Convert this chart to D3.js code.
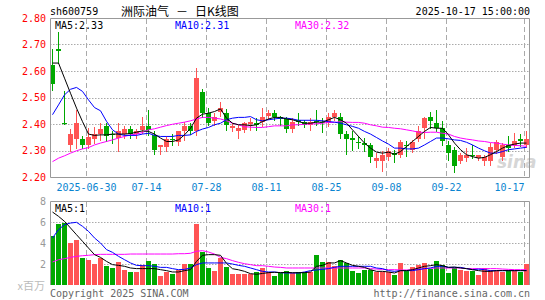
<!DOCTYPE html>
<html><head><meta charset="utf-8">
<script src="https://cdn.jsdelivr.net/npm/d3@7/dist/d3.min.js"></script>
<style>body{margin:0;background:#fff}svg{display:block}</style>
</head><body><svg id="c" width="545" height="300"></svg>
<script>
const dates = ["2025-06-20","2025-06-23","2025-06-24","2025-06-25","2025-06-26","2025-06-27","2025-06-30","2025-07-01","2025-07-02","2025-07-03",
"2025-07-04","2025-07-07","2025-07-08","2025-07-09","2025-07-10","2025-07-11","2025-07-14","2025-07-15","2025-07-16","2025-07-17",
"2025-07-18","2025-07-21","2025-07-22","2025-07-23","2025-07-24","2025-07-25","2025-07-28","2025-07-29","2025-07-30","2025-07-31",
"2025-08-01","2025-08-04","2025-08-05","2025-08-06","2025-08-07","2025-08-08","2025-08-11","2025-08-12","2025-08-13","2025-08-14",
"2025-08-15","2025-08-18","2025-08-19","2025-08-20","2025-08-21","2025-08-22","2025-08-25","2025-08-26","2025-08-27","2025-08-28",
"2025-08-29","2025-09-01","2025-09-02","2025-09-03","2025-09-04","2025-09-05","2025-09-08","2025-09-09","2025-09-10","2025-09-11",
"2025-09-12","2025-09-15","2025-09-16","2025-09-17","2025-09-18","2025-09-19","2025-09-22","2025-09-23","2025-09-24","2025-09-25",
"2025-09-26","2025-09-29","2025-09-30","2025-10-09","2025-10-10","2025-10-13","2025-10-14","2025-10-15","2025-10-16","2025-10-17"];

const open = [2.623,2.684,2.402,2.321,2.344,2.343,2.321,2.344,2.362,2.393,
2.362,2.347,2.362,2.382,2.362,2.378,2.393,2.359,2.312,2.313,
2.342,2.331,2.372,2.393,2.372,2.520,2.441,2.412,2.445,2.441,
2.384,2.372,2.378,2.399,2.403,2.409,2.432,2.441,2.425,2.420,
2.382,2.416,2.409,2.397,2.410,2.409,2.403,2.428,2.428,2.362,
2.346,2.331,2.330,2.321,2.261,2.261,2.274,2.290,2.284,2.322,
2.302,2.343,2.384,2.425,2.403,2.385,2.322,2.303,2.262,2.272,
2.284,2.270,2.262,2.262,2.303,2.274,2.322,2.322,2.344,2.319];
const close = [2.552,2.674,2.400,2.362,2.403,2.321,2.350,2.362,2.380,2.355,
2.357,2.372,2.382,2.362,2.372,2.393,2.378,2.302,2.319,2.343,
2.340,2.372,2.393,2.372,2.573,2.441,2.403,2.425,2.460,2.397,
2.393,2.384,2.403,2.409,2.397,2.428,2.441,2.428,2.420,2.382,
2.409,2.409,2.397,2.409,2.406,2.405,2.428,2.441,2.362,2.343,
2.340,2.327,2.321,2.274,2.271,2.284,2.299,2.284,2.331,2.318,
2.331,2.372,2.422,2.412,2.384,2.335,2.290,2.240,2.284,2.284,
2.278,2.284,2.274,2.315,2.331,2.322,2.309,2.335,2.335,2.344];
const high = [2.684,2.749,2.525,2.382,2.451,2.353,2.384,2.387,2.403,2.403,
2.372,2.403,2.391,2.391,2.382,2.428,2.453,2.372,2.319,2.353,
2.362,2.372,2.409,2.403,2.611,2.533,2.460,2.441,2.482,2.456,
2.403,2.397,2.409,2.424,2.422,2.460,2.453,2.451,2.432,2.428,
2.424,2.441,2.416,2.424,2.453,2.422,2.441,2.453,2.441,2.372,
2.372,2.353,2.349,2.328,2.290,2.299,2.309,2.302,2.340,2.334,
2.340,2.391,2.425,2.447,2.454,2.410,2.337,2.312,2.290,2.309,
2.322,2.284,2.284,2.328,2.341,2.328,2.353,2.366,2.363,2.372];
const low = [2.529,2.630,2.400,2.299,2.311,2.311,2.309,2.328,2.340,2.336,
2.328,2.299,2.347,2.347,2.347,2.365,2.359,2.286,2.286,2.299,
2.319,2.321,2.340,2.362,2.359,2.428,2.397,2.397,2.432,2.378,
2.372,2.347,2.369,2.378,2.378,2.391,2.419,2.416,2.397,2.369,
2.369,2.397,2.387,2.378,2.397,2.369,2.391,2.416,2.349,2.286,
2.302,2.309,2.299,2.256,2.236,2.221,2.265,2.258,2.277,2.281,
2.296,2.334,2.347,2.384,2.372,2.322,2.265,2.219,2.252,2.259,
2.271,2.266,2.247,2.247,2.290,2.265,2.297,2.312,2.316,2.312];

const ma5 = [2.630,2.630,2.573,2.516,2.460,2.409,2.362,2.357,2.359,2.359,
2.362,2.362,2.362,2.364,2.369,2.374,2.372,2.362,2.347,2.334,
2.334,2.340,2.359,2.384,2.422,2.437,2.441,2.447,2.457,2.422,
2.403,2.397,2.397,2.394,2.397,2.409,2.419,2.425,2.425,2.419,
2.416,2.409,2.403,2.403,2.407,2.407,2.416,2.425,2.416,2.403,
2.378,2.353,2.328,2.309,2.294,2.290,2.294,2.286,2.296,2.315,
2.334,2.353,2.372,2.387,2.384,2.384,2.359,2.328,2.303,2.284,
2.277,2.271,2.274,2.284,2.296,2.309,2.319,2.324,2.328,2.328];
const ma10 = [2.435,2.472,2.510,2.531,2.538,2.523,2.491,2.462,2.450,2.410,
2.378,2.362,2.357,2.357,2.357,2.362,2.365,2.357,2.353,2.353,
2.353,2.357,2.357,2.359,2.372,2.381,2.387,2.397,2.403,2.416,
2.422,2.425,2.425,2.428,2.416,2.412,2.416,2.419,2.422,2.422,
2.419,2.414,2.414,2.414,2.414,2.412,2.409,2.407,2.403,2.397,
2.391,2.384,2.372,2.362,2.349,2.336,2.324,2.309,2.309,2.306,
2.306,2.309,2.321,2.334,2.347,2.347,2.344,2.340,2.338,2.331,
2.321,2.309,2.299,2.290,2.290,2.296,2.303,2.306,2.309,2.312];
const ma30 = [2.258,2.271,2.280,2.290,2.299,2.306,2.311,2.321,2.328,2.334,
2.340,2.347,2.353,2.359,2.362,2.368,2.378,2.382,2.388,2.394,
2.399,2.403,2.407,2.412,2.419,2.425,2.425,2.422,2.419,2.412,
2.403,2.397,2.390,2.388,2.387,2.387,2.390,2.393,2.393,2.393,
2.397,2.397,2.399,2.400,2.401,2.403,2.406,2.406,2.409,2.407,
2.406,2.406,2.403,2.397,2.393,2.388,2.387,2.384,2.382,2.378,
2.374,2.369,2.368,2.369,2.369,2.365,2.362,2.353,2.347,2.343,
2.340,2.336,2.334,2.330,2.328,2.324,2.321,2.319,2.318,2.316];

const volume = [4.70,5.78,5.94,3.97,4.25,2.54,2.35,2.00,2.54,1.78,
1.59,2.16,1.46,1.27,1.27,1.90,2.25,1.97,0.83,1.27,
1.02,1.43,1.97,1.97,5.78,3.17,1.59,1.30,2.54,1.68,
1.02,1.02,1.02,1.02,1.21,1.59,1.24,0.90,1.11,1.37,
1.11,1.24,1.24,1.24,2.89,2.22,2.22,1.78,2.41,2.06,
1.30,1.17,1.40,1.40,1.24,1.24,1.24,0.98,2.13,1.30,
1.75,1.94,2.13,1.56,2.32,1.87,1.17,1.62,1.46,1.30,
1.30,0.98,1.62,1.46,1.37,1.24,1.46,1.30,1.21,2.03];
const vma5 = [6.95,6.54,6.06,5.43,4.79,4.16,3.52,2.89,2.63,2.25,
1.94,1.87,1.78,1.62,1.56,1.56,1.56,1.56,1.46,1.37,
1.24,1.24,1.37,1.46,2.25,2.83,2.89,2.89,2.83,2.06,
1.55,1.45,1.30,1.08,1.02,1.10,1.18,1.21,1.18,1.20,
1.17,1.17,1.17,1.24,1.78,1.87,2.10,2.10,2.32,2.10,
1.87,1.78,1.68,1.46,1.30,1.30,1.24,1.14,1.37,1.37,
1.46,1.62,1.78,1.84,1.94,1.84,1.68,1.71,1.62,1.56,
1.46,1.37,1.30,1.30,1.37,1.37,1.37,1.37,1.37,1.37];
const vma10 = [4.48,5.27,5.75,5.90,5.97,5.59,5.11,4.48,4.00,3.37,
3.11,2.73,2.41,2.10,1.87,1.84,1.84,1.78,1.68,1.68,
1.56,1.46,1.49,1.62,1.94,2.10,2.10,2.10,2.10,2.10,
2.00,1.87,1.78,1.62,1.46,1.30,1.24,1.24,1.17,1.14,
1.14,1.14,1.24,1.37,1.43,1.49,1.56,1.68,1.78,1.78,
1.78,1.78,1.78,1.78,1.62,1.56,1.37,1.30,1.37,1.37,
1.37,1.46,1.56,1.62,1.78,1.78,1.68,1.68,1.68,1.56,
1.46,1.51,1.46,1.37,1.37,1.37,1.37,1.37,1.37,1.37];
const vma30 = [2.19,2.41,2.51,2.63,2.73,2.79,2.83,2.89,2.92,2.92,
2.92,2.92,2.92,2.95,2.95,2.95,2.95,2.95,2.95,2.95,
2.95,2.98,2.98,3.02,3.21,3.27,3.14,2.95,2.63,2.51,
2.32,2.16,2.03,1.94,1.84,1.84,1.78,1.71,1.68,1.62,
1.62,1.62,1.62,1.62,1.62,1.62,1.62,1.62,1.62,1.62,
1.62,1.62,1.62,1.56,1.52,1.49,1.46,1.46,1.43,1.43,
1.46,1.49,1.56,1.59,1.62,1.62,1.62,1.62,1.62,1.56,
1.56,1.56,1.56,1.56,1.56,1.52,1.49,1.46,1.46,1.46];

const tickDates = ["2025-06-30","2025-07-14","2025-07-28","2025-08-11","2025-08-25","2025-09-08","2025-09-22","2025-10-17"];
const tickLabels = ["2025-06-30","07-14","07-28","08-11","08-25","09-08","09-22","10-17"];
const priceTicks = [2.20,2.30,2.40,2.50,2.60,2.70,2.80];
const priceGrid = [2.30,2.40,2.50,2.60,2.70];
const volTicks = [2,4,6,8];
const volGrid = [2,4,6];

const RED = "#ff5454", GREEN = "#00a800";
const MONO = "'DejaVu Sans Mono', 'Liberation Mono', monospace";
const CJK = "'Noto Sans CJK SC', sans-serif";

const svg = d3.select("#c");
const L = 50, R = 530;
const x = d3.scaleBand().domain(dates).range([49.5, 529.5]);
const y = d3.scaleLinear().domain([2.20, 2.80]).range([177, 18]);
const yv = d3.scaleLinear().domain([0, 8]).range([285, 201]);
const cx = d => x(d) + 3;

const data = dates.map((d, i) => ({d, o: open[i], c: close[i], h: high[i], l: low[i], v: volume[i], up: close[i] > open[i]}));

// ---------- header ----------
svg.append("text").attr("x", 50).attr("y", 15).attr("font-family", MONO).attr("font-size", 10).attr("fill", "#000").text("sh600759");
svg.append("text").attr("x", 121).attr("y", 15.5).attr("font-family", CJK).attr("font-size", 12).attr("fill", "#000").text("洲际油气");
svg.append("text").attr("x", 176).attr("y", 15.5).attr("font-family", CJK).attr("font-size", 12).attr("fill", "#000").text("－");
svg.append("text").attr("x", 195).attr("y", 15.5).attr("font-family", CJK).attr("font-size", 12).attr("fill", "#000").text("日K线图");
svg.append("text").attr("x", 530).attr("y", 15).attr("text-anchor", "end").attr("font-family", MONO).attr("font-size", 10).attr("fill", "#000").text("2025-10-17 15:00:00");

// ---------- grids ----------
const grid = svg.append("g");
grid.selectAll(".hg").data(priceGrid).join("line")
  .attr("x1", L).attr("x2", R).attr("y1", d => Math.round(y(d)) + 0.5).attr("y2", d => Math.round(y(d)) + 0.5)
  .attr("stroke", "#aaa").attr("stroke-dasharray", "1.5,1.5");
grid.selectAll(".hv").data(volGrid).join("line")
  .attr("x1", L).attr("x2", R).attr("y1", d => Math.round(yv(d)) + 0.5).attr("y2", d => Math.round(yv(d)) + 0.5)
  .attr("stroke", "#aaa").attr("stroke-dasharray", "1.5,1.5");
grid.selectAll(".vg").data(tickDates).join("line")
  .attr("x1", d => x(d) + 1).attr("x2", d => x(d) + 1).attr("y1", 19).attr("y2", 177)
  .attr("stroke", "#aaa").attr("stroke-dasharray", "5,3");
grid.selectAll(".vg2").data(tickDates).join("line")
  .attr("x1", d => x(d) + 1).attr("x2", d => x(d) + 1).attr("y1", 202).attr("y2", 285)
  .attr("stroke", "#aaa").attr("stroke-dasharray", "5,3");

// watermark
svg.append("text").attr("x", 497).attr("y", 168).attr("font-family", "'DejaVu Sans', sans-serif").attr("font-style", "italic").attr("font-weight", "bold").attr("font-size", 17).attr("fill", "#d6d6d6").text("sina");

// ---------- candles ----------
const cg = svg.append("g");
cg.selectAll(".wick").data(data).join("line")
  .attr("x1", d => cx(d.d)).attr("x2", d => cx(d.d))
  .attr("y1", d => Math.round(y(d.h))).attr("y2", d => Math.round(y(d.l)) + 1)
  .attr("stroke", d => d.up ? RED : GREEN).attr("stroke-width", 1);
cg.selectAll(".body").data(data).join("rect")
  .attr("x", d => x(d.d) + 0.5).attr("width", 5)
  .attr("y", d => Math.round(y(Math.max(d.o, d.c))))
  .attr("height", d => Math.max(1, Math.round(y(Math.min(d.o, d.c))) - Math.round(y(Math.max(d.o, d.c)))))
  .attr("fill", d => d.up ? RED : GREEN);

// ---------- volume bars ----------
svg.append("g").selectAll("rect").data(data).join("rect")
  .attr("x", d => x(d.d) + 0.5).attr("width", 5)
  .attr("y", d => Math.round(yv(d.v))).attr("height", d => 285 - Math.round(yv(d.v)))
  .attr("fill", d => d.up ? RED : GREEN);

// ---------- MA lines ----------
function maLine(arr, yScale, color) {
  const ln = d3.line().x((d, i) => cx(dates[i])).y(d => yScale(d));
  svg.append("path").datum(arr).attr("d", ln).attr("fill", "none").attr("stroke", color).attr("stroke-width", 1);
}
maLine(ma30, y, "#ff00ff");
maLine(ma10, y, "#0000ff");
maLine(ma5, y, "#000000");
maLine(vma30, yv, "#ff00ff");
maLine(vma10, yv, "#0000ff");
maLine(vma5, yv, "#000000");

// ---------- frames ----------
const fr = svg.append("g").attr("fill", "none").attr("stroke", "#999");
fr.append("path").attr("d", `M${L+0.5},177.5V18.5H${R-0.5}V177.5H${L+0.5}`);
fr.append("path").attr("d", `M${L+0.5},285V201.5H${R-0.5}V285`);

// ---------- axes labels ----------
svg.append("g").selectAll("text").data(priceTicks).join("text")
  .attr("x", 46).attr("y", d => y(d) + 3.7).attr("text-anchor", "end")
  .attr("font-family", MONO).attr("font-size", 10).attr("fill", "#ff0000")
  .text(d => d3.format(".2f")(d));
svg.append("g").selectAll("text").data(volTicks).join("text")
  .attr("x", 46).attr("y", d => yv(d) + 3.7).attr("text-anchor", "end")
  .attr("font-family", MONO).attr("font-size", 10).attr("fill", "#999")
  .text(d => d);
svg.append("g").selectAll("text").data(tickDates).join("text")
  .attr("x", d => x(d) + 1).attr("y", 190.5)
  .attr("text-anchor", (d, i) => i === tickDates.length - 1 ? "end" : "middle")
  .attr("font-family", MONO).attr("font-size", 10).attr("fill", "#0a84d0")
  .text((d, i) => tickLabels[i]);

svg.append("text").attr("x", 45).attr("y", 290).attr("text-anchor", "end").attr("font-family", CJK).attr("font-size", 11).attr("fill", "#bbb").text("x百万");

// ---------- legends ----------
const legMain = [["MA5:2.33", 55, "#000"], ["MA10:2.31", 175, "#0000ff"], ["MA30:2.32", 295, "#ff00ff"]];
const legVol = [["MA5:1", 55, "#000"], ["MA10:1", 175, "#0000ff"], ["MA30:1", 295, "#ff00ff"]];
svg.append("g").selectAll("text").data(legMain).join("text")
  .attr("x", d => d[1]).attr("y", 28.5).attr("font-family", MONO).attr("font-size", 10).attr("fill", d => d[2]).text(d => d[0]);
svg.append("g").selectAll("text").data(legVol).join("text")
  .attr("x", d => d[1]).attr("y", 211.5).attr("font-family", MONO).attr("font-size", 10).attr("fill", d => d[2]).text(d => d[0]);

// ---------- footer ----------
svg.append("text").attr("x", 50).attr("y", 296.5).attr("font-family", MONO).attr("font-size", 10).attr("fill", "#666").text("Copyright 2025 SINA.COM");
svg.append("text").attr("x", 530).attr("y", 296.5).attr("text-anchor", "end").attr("font-family", MONO).attr("font-size", 10).attr("fill", "#666").text("http://finance.sina.com.cn");
</script></body></html>
